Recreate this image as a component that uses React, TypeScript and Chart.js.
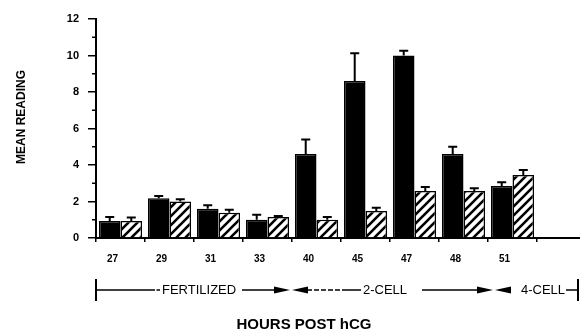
import React, { useEffect, useRef } from "react";
import { Chart, registerables } from "chart.js";

Chart.register(...registerables);

const categories = ["27", "29", "31", "33", "40", "45", "47", "48", "51", ""];
const blackValues = [0.93, 2.18, 1.6, 1.0, 4.6, 8.6, 10.0, 4.6, 2.85];
const blackErrors = [0.22, 0.12, 0.2, 0.27, 0.8, 1.52, 0.26, 0.4, 0.2];
const hatchedValues = [0.93, 2.0, 1.38, 1.15, 1.0, 1.48, 2.58, 2.57, 3.45];
const hatchedErrors = [0.2, 0.13, 0.17, 0.06, 0.15, 0.18, 0.22, 0.15, 0.27];
const yTicks = [0, 2, 4, 6, 8, 10, 12];
const yMinorTicks = [1, 3, 5, 7, 9, 11];

const FONT = "'Liberation Sans', Arial, Helvetica, sans-serif";

function makeHatch(): CanvasPattern | string {
  const s = 9;
  const c = document.createElement("canvas");
  c.width = s;
  c.height = s;
  const g = c.getContext("2d");
  if (!g) return "#fff";
  g.fillStyle = "#fff";
  g.fillRect(0, 0, s, s);
  g.strokeStyle = "#000";
  g.lineWidth = 2.6;
  g.beginPath();
  g.moveTo(-2, s + 2);
  g.lineTo(s + 2, -2);
  g.moveTo(-2, 2);
  g.lineTo(2, -2);
  g.moveTo(s - 2, s + 2);
  g.lineTo(s + 2, s - 2);
  g.stroke();
  const p = g.createPattern(c, "repeat");
  return p || "#fff";
}

const errorBarPlugin = {
  id: "errorBars",
  afterDatasetsDraw(chart: any) {
    const ctx = chart.ctx;
    const yScale = chart.scales.y;
    const errs = [blackErrors, hatchedErrors];
    ctx.save();
    ctx.strokeStyle = "#000";
    ctx.lineWidth = 2;
    chart.data.datasets.forEach((ds: any, di: number) => {
      const meta = chart.getDatasetMeta(di);
      meta.data.forEach((bar: any, i: number) => {
        const v = ds.data[i];
        const e = errs[di][i];
        if (v == null || e == null) return;
        const x = bar.x;
        const y0 = yScale.getPixelForValue(v);
        const y1 = yScale.getPixelForValue(v + e);
        ctx.beginPath();
        ctx.moveTo(x, y0);
        ctx.lineTo(x, y1);
        ctx.moveTo(x - 4.5, y1);
        ctx.lineTo(x + 4.5, y1);
        ctx.stroke();
      });
    });
    ctx.restore();
  },
};

const annotationPlugin = {
  id: "annotations",
  afterDraw(chart: any) {
    const ctx = chart.ctx;
    const yScale = chart.scales.y;
    const area = chart.chartArea;
    ctx.save();
    ctx.strokeStyle = "#000";
    ctx.fillStyle = "#000";
    // minor y ticks
    ctx.lineWidth = 1.5;
    yMinorTicks.forEach((v) => {
      const y = yScale.getPixelForValue(v);
      ctx.beginPath();
      ctx.moveTo(area.left - 4, y);
      ctx.lineTo(area.left, y);
      ctx.stroke();
    });

    const Y = 290;
    const line = (a: number, b: number, dash: number[] = []) => {
      ctx.setLineDash(dash);
      ctx.beginPath();
      ctx.moveTo(a, Y);
      ctx.lineTo(b, Y);
      ctx.stroke();
      ctx.setLineDash([]);
    };
    const arrow = (base: number, tip: number) => {
      ctx.beginPath();
      ctx.moveTo(base, Y - 3.5);
      ctx.lineTo(tip, Y);
      ctx.lineTo(base, Y + 3.5);
      ctx.closePath();
      ctx.fill();
    };
    const vbar = (x: number) => {
      ctx.lineWidth = 2;
      ctx.beginPath();
      ctx.moveTo(x, Y - 11);
      ctx.lineTo(x, Y + 11);
      ctx.stroke();
      ctx.lineWidth = 1.5;
    };
    vbar(96);
    line(96, 155);
    line(156.5, 160);
    ctx.font = `13px ${FONT}`;
    ctx.textBaseline = "middle";
    ctx.textAlign = "left";
    ctx.fillText("FERTILIZED", 162, Y);
    line(242, 275);
    arrow(274, 290);
    arrow(308, 292);
    line(307, 345, [5, 2]);
    line(345, 361);
    ctx.fillText("2-CELL", 363, Y);
    line(422, 478);
    arrow(477, 493);
    arrow(511, 495);
    ctx.fillText("4-CELL", 521, Y);
    line(566, 578);
    vbar(578);

    ctx.font = `bold 15px ${FONT}`;
    ctx.textAlign = "center";
    ctx.fillText("HOURS POST hCG", 304, 325);

    ctx.translate(22, 117);
    ctx.rotate(-Math.PI / 2);
    ctx.font = `bold 12px ${FONT}`;
    ctx.fillText("MEAN READING", 0, 0);
    ctx.restore();
  },
};

export default function App() {
  const ref = useRef<HTMLCanvasElement | null>(null);
  useEffect(() => {
    if (!ref.current) return;
    const hatch = makeHatch();
    const chart = new Chart(ref.current, {
      type: "bar",
      data: {
        labels: categories,
        datasets: [
          {
            label: "Black",
            data: blackValues,
            backgroundColor: "#000",
            borderColor: "#000",
            borderWidth: 1.5,
            barPercentage: 1,
            categoryPercentage: 0.88,
          },
          {
            label: "Hatched",
            data: hatchedValues,
            backgroundColor: hatch as any,
            borderColor: "#000",
            borderWidth: 1.5,
            barPercentage: 1,
            categoryPercentage: 0.88,
          },
        ],
      },
      options: {
        responsive: false,
        animation: false,
        events: [],
        layout: { padding: { top: 19, left: 0, right: 0, bottom: 0 } },
        plugins: {
          legend: { display: false },
          tooltip: { enabled: false },
          title: { display: false },
        },
        scales: {
          x: {
            afterFit: (s: any) => {
              s.height = 95;
            },
            grid: {
              display: true,
              drawOnChartArea: false,
              tickLength: 4,
              color: "#000",
              lineWidth: 1.5,
            },
            border: { display: true, color: "#000", width: 2 },
            ticks: {
              color: "#000",
              font: { family: FONT, size: 10, weight: "bold" },
              padding: 11,
              labelOffset: -8,
              autoSkip: false,
              maxRotation: 0,
            },
          },
          y: {
            min: 0,
            max: 12,
            afterFit: (s: any) => {
              s.width = 96;
            },
            afterBuildTicks: (s: any) => {
              s.ticks = yTicks.map((v) => ({ value: v }));
            },
            grid: {
              display: true,
              drawOnChartArea: false,
              tickLength: 8,
              color: "#000",
              lineWidth: 1.5,
            },
            border: { display: true, color: "#000", width: 2 },
            ticks: {
              color: "#000",
              font: { family: FONT, size: 11, weight: "bold" },
              padding: 9,
            },
          },
        },
      },
      plugins: [errorBarPlugin, annotationPlugin],
    });
    return () => chart.destroy();
  }, []);
  return (
    <div
      style={{
        position: "absolute",
        left: 0,
        top: 0,
        width: 580,
        height: 333,
        overflow: "hidden",
        background: "#fff",
      }}
    >
      <canvas ref={ref} width={586} height={333} style={{ display: "block" }} />
    </div>
  );
}
